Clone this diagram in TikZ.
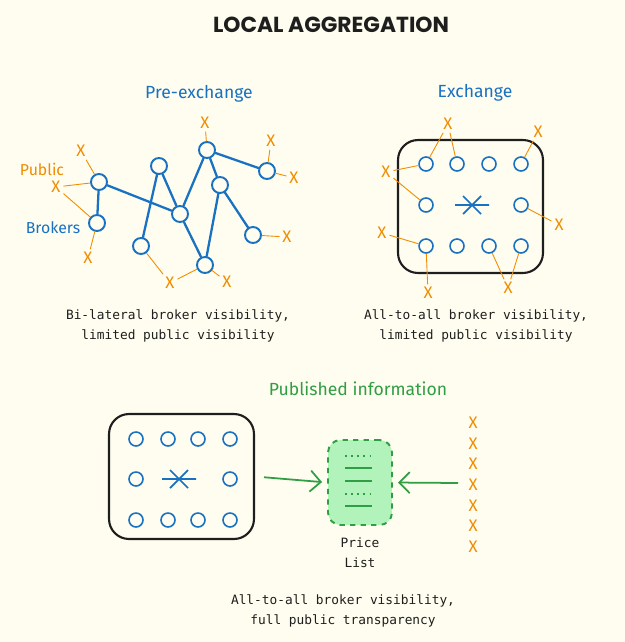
\documentclass[tikz,border=0pt]{standalone}
\usepackage{fontspec}
\setmainfont{Fira Sans}
\newfontfamily\titlefont{Poppins}
\newfontfamily\codefont{DejaVu Sans Mono}
\usepackage{xcolor}
\definecolor{paper}{HTML}{FFFDEF}
\definecolor{brokerblue}{HTML}{1971C2}
\definecolor{publicorange}{HTML}{F08C00}
\definecolor{pubgreen}{HTML}{2F9E44}
\definecolor{listfill}{HTML}{B2F2BB}
\definecolor{ink}{HTML}{1E1E1E}
\usetikzlibrary{arrows.meta, positioning}

\tikzset{
  broker/.style={circle, draw=brokerblue, line width=1.1pt, minimum size=0.32cm, inner sep=0pt},
  seat/.style={circle, draw=brokerblue, line width=0.9pt, minimum size=0.28cm, inner sep=0pt},
  public/.style={text=publicorange, font=\fontsize{9.5}{10}\selectfont, inner sep=1.5pt},
  link/.style={draw=brokerblue, line width=1.3pt, line cap=round},
  publink/.style={draw=publicorange, line width=0.5pt},
  heading/.style={font=\normalsize},
  caption/.style={font=\codefont\fontsize{7.3}{11.3}\selectfont, align=center, text=ink},
  venue/.style={draw=ink, line width=1.2pt, rounded corners=0.4cm, minimum width=2.9cm},
  feed/.style={draw=pubgreen, line width=1pt, -{Straight Barb[length=6pt, width=12pt]}},
}

\begin{document}
\begin{tikzpicture}[x=0.02cm, y=-0.02cm]
  \fill[paper] (0,0) rectangle (625,642);
  \useasboundingbox (0,0) rectangle (625,642);

  \node[font=\titlefont\bfseries\fontsize{12.4}{15}\selectfont, text=ink] (title) at (331,25) {LOCAL AGGREGATION};

  % pre-exchange network
  \node[heading, text=brokerblue] (prehead) at (199,94) {Pre-exchange};
  \foreach \n/\x/\y in {b1/99/182, b2/97/223, b3/159/166, b4/180/214, b5/207/150,
                        b6/220/185, b7/267/171, b8/141/246, b9/205/265, b10/253/235}{
    \node[broker] (\n) at (\x,\y) {};
  }
  \foreach \a/\b in {b1/b2, b1/b4, b8/b3, b3/b4, b4/b9, b4/b5, b5/b7, b5/b6, b6/b9, b6/b10}{
    \draw[link] (\a) -- (\b);
  }
  \foreach \n/\x/\y in {p1/81/151, p2/56/187, p3/88/258, p4/205/123, p5/271/141,
                        p6/294/178, p7/287/237, p8/170/283, p9/227/282}{
    \node[public] (\n) at (\x,\y) {X};
  }
  \foreach \a/\b in {p1/b1, p2/b1, p2/b2, p3/b2, p4/b5, p5/b7, p6/b7, p7/b10, p8/b8, p8/b9, p9/b9}{
    \draw[publink] (\a) -- (\b);
  }
  \node[text=publicorange, font=\small] (publiclbl) at (42,169) {Public};
  \node[text=brokerblue, font=\small] (brokerlbl) at (53,228) {Brokers};
  \node[caption] (precap) at (178,326) {Bi-lateral broker visibility,\\limited public visibility};

  % exchange
  \node[heading, text=brokerblue] (exhead) at (475,93) {Exchange};
  \node[venue, minimum height=2.66cm] (exbox) at (470.5,206.5) {};
  \foreach \c/\x in {1/426, 2/457, 3/489, 4/521}{
    \node[seat] (e1\c) at (\x,164) {};
    \node[seat] (e3\c) at (\x,246) {};
  }
  \node[seat] (e21) at (426,205) {};
  \node[seat] (e24) at (521,205) {};
  \draw[brokerblue, line width=1pt] (455,205) -- (489,205) (463,196) -- (481,214) (463,214) -- (481,196);
  \foreach \n/\x/\y in {q1/448/124, q2/538/132, q3/386/172, q4/382/233,
                        q5/559/225, q6/428/293, q7/508/288}{
    \node[public] (\n) at (\x,\y) {X};
  }
  \foreach \a/\b in {q1/e11, q1/e12, q2/e14, q3/e11, q3/e21, q4/e31, q5/e24, q6/e31, q7/e33, q7/e34}{
    \draw[publink] (\a) -- (\b);
  }
  \node[caption] (excap) at (476,326) {All-to-all broker visibility,\\limited public visibility};

  % published information
  \node[heading, text=pubgreen] (pubhead) at (358,389) {Published information};
  \node[venue, minimum height=2.5cm] (mkbox) at (181.5,476.5) {};
  \foreach \c/\x in {1/136, 2/168, 3/198, 4/230}{
    \node[seat] (m1\c) at (\x,439) {};
    \node[seat] (m3\c) at (\x,520) {};
  }
  \node[seat] (m21) at (136,479) {};
  \node[seat] (m24) at (230,479) {};
  \draw[brokerblue, line width=1pt] (162,479) -- (196,479) (170,470) -- (188,488) (170,488) -- (188,470);

  \node[draw=pubgreen, fill=listfill, dashed, line width=1.1pt, rounded corners=0.25cm,
        minimum width=1.28cm, minimum height=1.7cm] (pricelist) at (360,482.5) {};
  \draw[pubgreen, line width=0.8pt, dash pattern=on 1pt off 2.5pt] (345,456) -- (372,456) (345,494) -- (372,494);
  \draw[pubgreen, line width=0.8pt] (345,468) -- (372,468) (345,481) -- (372,481) (345,506) -- (372,506);
  \node[caption, below=0.12cm of pricelist] (pricelbl) {Price\\List};

  \foreach \i in {0,...,6}{
    \node[public] (r\i) at (473,423+20.6*\i) {X};
  }
  \coordinate (feedin) at (458,483);
  \draw[feed, shorten <=0.18cm, shorten >=0.1cm] (mkbox.east) -- (pricelist.west);
  \draw[feed, shorten >=0.1cm] (feedin) -- (pricelist.east);

  \node[caption] (pubcap) at (343,611) {All-to-all broker visibility,\\full public transparency};
\end{tikzpicture}
\end{document}
